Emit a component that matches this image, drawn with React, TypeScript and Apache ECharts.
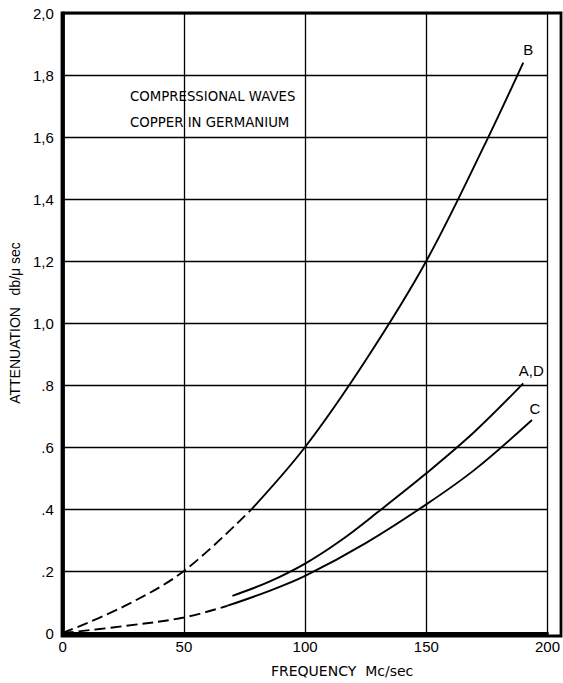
import React, { useEffect, useRef } from "react";
import * as echarts from "echarts";

const xTicks = [0, 50, 100, 150, 200];
const yTickLabels: Record<string, string> = {
  "0": "0", "0.2": ".2", "0.4": ".4", "0.6": ".6", "0.8": ".8",
  "1": "1,0", "1.2": "1,2", "1.4": "1,4", "1.6": "1,6", "1.8": "1,8", "2": "2,0",
};
const titleLines = ["COMPRESSIONAL WAVES", "COPPER IN GERMANIUM"];

const bDashed: [number, number][] = [
  [0, 0], [25, 0.085], [50, 0.2], [78, 0.4],
];
const bSolid: [number, number][] = [
  [78, 0.4], [100, 0.6], [125, 0.88], [150, 1.2], [175, 1.59], [190, 1.84],
];
const adSolid: [number, number][] = [
  [70, 0.12], [85, 0.165], [100, 0.224], [115, 0.3], [130, 0.39], [150, 0.515], [170, 0.65], [190, 0.805],
];
const cDashed: [number, number][] = [
  [0, 0], [25, 0.022], [50, 0.05], [68, 0.088],
];
const cSolid: [number, number][] = [
  [68, 0.088], [85, 0.135], [100, 0.184], [125, 0.29], [150, 0.415], [170, 0.527], [193.6, 0.687],
];

const FONT = "Liberation Sans";
const FONT2 = "DejaVu Sans";

export default function App() {
  const ref = useRef<HTMLDivElement>(null);
  useEffect(() => {
    if (!ref.current) return;
    const chart = echarts.init(ref.current, undefined, { renderer: "svg" });
    const lineBase = {
      type: "line",
      smooth: 0.35,
      showSymbol: false,
      symbol: "none",
      silent: true,
    };
    const endLabel = (text: string, offset: [number, number]) => ({
      show: true,
      formatter: text,
      distance: 0,
      align: "center",
      verticalAlign: "middle",
      offset,
      color: "#000",
      fontFamily: FONT,
      fontSize: 15,
    });
    chart.setOption({
      animation: false,
      backgroundColor: "#fff",
      grid: { left: 62, top: 13, right: 2, bottom: 47 },
      xAxis: {
        type: "value",
        min: 0,
        max: 200,
        interval: 50,
        name: "FREQUENCY  Mc/sec",
        nameLocation: "middle",
        nameGap: 31,
        nameTextStyle: { color: "#000", fontFamily: FONT2, fontSize: 14, padding: [0, 0, 0, 74] },
        axisLine: { show: true, lineStyle: { color: "#000", width: 2.8 } },
        axisTick: { show: false },
        splitLine: { show: true, lineStyle: { color: "#000", width: 1.3 } },
        axisLabel: {
          color: "#000",
          fontFamily: FONT,
          fontSize: 15,
          margin: 6,
          formatter: (v: number) => (xTicks.includes(v) ? String(v) : ""),
        },
      },
      yAxis: {
        type: "value",
        min: 0,
        max: 2,
        interval: 0.2,
        name: "ATTENUATION   db/\u03bc sec",
        nameLocation: "middle",
        nameGap: 34,
        nameTextStyle: { color: "#000", fontFamily: FONT, fontSize: 14 },
        axisLine: { show: true, lineStyle: { color: "#000", width: 2.8 } },
        axisTick: { show: false },
        splitLine: { show: true, lineStyle: { color: "#000", width: 1.3 } },
        axisLabel: {
          color: "#000",
          fontFamily: FONT,
          fontSize: 15,
          margin: 9,
          formatter: (v: number) => yTickLabels[String(Math.round(v * 10) / 10)] ?? "",
        },
      },
      graphic: [
        {
          type: "rect",
          shape: { x: 62, y: 13, width: 499, height: 623 },
          style: { fill: "none", stroke: "#000", lineWidth: 2.8 },
          silent: true,
        },
        ...titleLines.map((t, i) => ({
          type: "text",
          x: 130,
          y: 96.5 + i * 25.5,
          style: { text: t, fill: "#000", font: `13.3px "${FONT2}"`, verticalAlign: "middle" },
        })),
      ],
      series: [
        { ...lineBase, name: "B dashed", data: bDashed, lineStyle: { color: "#000", width: 1.9, type: [11, 5] } },
        { ...lineBase, name: "B", data: bSolid, endLabel: endLabel("B", [5, -13]), lineStyle: { color: "#000", width: 1.9 } },
        { ...lineBase, name: "A,D", data: adSolid, endLabel: endLabel("A,D", [8, -13]), lineStyle: { color: "#000", width: 1.9 } },
        { ...lineBase, name: "C dashed", data: cDashed, lineStyle: { color: "#000", width: 1.9, type: [11, 5] } },
        { ...lineBase, name: "C", data: cSolid, endLabel: endLabel("C", [3, -12]), lineStyle: { color: "#000", width: 1.9 } },
      ],
    });
    return () => chart.dispose();
  }, []);
  return <div ref={ref} style={{ width: 563, height: 683, position: "absolute", left: 0, top: 0 }} />;
}
